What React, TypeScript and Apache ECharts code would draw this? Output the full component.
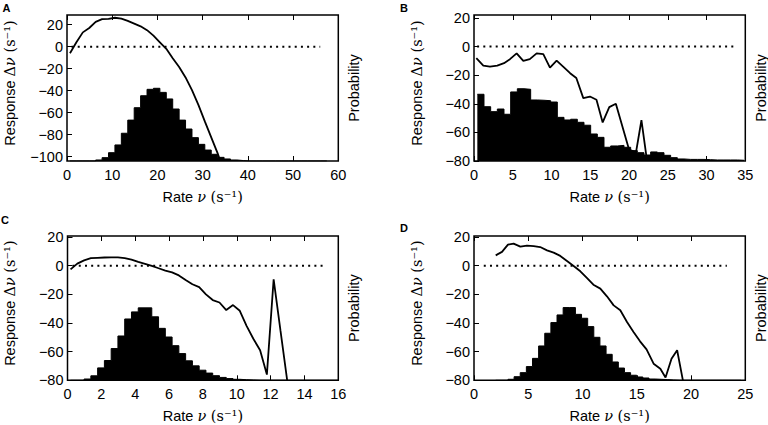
import React, { useEffect, useRef } from "react";
import * as echarts from "echarts";

// ---------- Panel A ----------
const rateA = [0.66, 2.08, 3.5, 4.92, 6.34, 7.76, 9.18, 10.6, 12.02, 13.44, 14.86, 16.28, 17.7, 19.12, 20.54, 21.96, 23.38, 24.8, 26.22, 27.64, 29.06, 30.48, 31.9, 33.32, 33.8];
const responseA = [-6, 4, 13, 17, 22.5, 25, 25.3, 26.3, 25.5, 23.5, 21, 18.5, 15, 10, 4, -2, -10.5, -18.5, -28, -39.5, -53, -68, -82.5, -97, -103];
const histStartA = 0.66;
const histWidthA = 1.42;
const histA = [0, 0, 0, 0, 0.007, 0.023, 0.057, 0.11, 0.19, 0.28, 0.365, 0.447, 0.491, 0.498, 0.47, 0.425, 0.356, 0.28, 0.219, 0.16, 0.114, 0.075, 0.046, 0.025, 0.014, 0.007, 0.003, 0, 0, 0, 0, 0, 0, 0, 0, 0, 0, 0, 0, 0];
const zeroA = [1.0, 56.0];

// ---------- Panel B ----------
const rateB = [0.3, 1.2, 2.06, 3.0, 3.87, 4.64, 5.5, 6.36, 7.2, 8.08, 8.94, 9.8, 10.66, 11.5, 12.4, 13.2, 14.1, 14.96, 15.8, 16.6, 17.45, 18.3, 20.0, 20.9, 21.6, 22.3];
const responseB = [-8.1, -13.3, -14, -13.3, -11.6, -8.8, -4.7, -10, -8.8, -4.7, -5.3, -14.7, -9.8, -14, -18.6, -22, -36, -34.9, -37.2, -53, -42.3, -40, -72, -74, -51.5, -79];
const histStartB = 0.43;
const histWidthB = 0.86;
const histB = [0.457, 0.372, 0.338, 0.356, 0.32, 0.473, 0.495, 0.491, 0.418, 0.416, 0.413, 0.404, 0.299, 0.281, 0.286, 0.265, 0.245, 0.185, 0.162, 0.094, 0.103, 0.107, 0.094, 0.071, 0.057, 0.041, 0.062, 0.057, 0.039, 0.023, 0.014, 0.011, 0.011, 0.011, 0.009, 0.007, 0.007, 0.007, 0.007, 0.005];
const zeroB = [0.4, 33.5];

// ---------- Panel C ----------
const rateC = [0.18, 0.58, 0.98, 1.38, 1.78, 2.18, 2.58, 2.98, 3.38, 3.78, 4.18, 4.58, 4.98, 5.38, 5.78, 6.18, 6.58, 6.98, 7.38, 7.78, 8.18, 8.58, 8.98, 9.38, 9.78, 10.18, 10.58, 10.98, 11.38, 11.78, 12.18, 12.58, 12.98];
const responseC = [-2.6, 1.4, 3.7, 5.2, 5.5, 5.7, 5.8, 5.8, 5.3, 4.2, 2.6, 1.3, -0.2, -1.8, -3.4, -4.7, -6.8, -10, -13, -15, -20, -24, -25.7, -31, -27.5, -31.5, -42, -51, -59, -76, -9.5, -45, -80];
const histStartC = 0.18;
const histWidthC = 0.4;
const histC = [0, 0, 0.009, 0.031, 0.086, 0.137, 0.22, 0.307, 0.425, 0.474, 0.502, 0.502, 0.44, 0.36, 0.3, 0.24, 0.185, 0.135, 0.1, 0.07, 0.05, 0.032, 0.02, 0.012, 0.007, 0.004, 0.002, 0, 0, 0, 0, 0, 0, 0, 0, 0, 0, 0, 0, 0];
const zeroC = [0.3, 15.3];

// ---------- Panel D ----------
const rateD = [2.0, 2.58, 3.13, 3.65, 4.27, 4.88, 5.5, 6.1, 6.73, 7.34, 7.95, 8.57, 9.18, 9.8, 10.4, 11.0, 11.64, 12.25, 12.87, 13.48, 14.1, 14.7, 15.3, 15.9, 16.55, 17.17, 17.65, 18.2, 18.72, 19.25];
const responseD = [7.2, 9.6, 14.7, 15.4, 13.3, 14, 13.7, 13, 10.7, 9.1, 6.8, 3.3, -0.2, -3.9, -8.6, -13.3, -16, -21.4, -27.7, -31.1, -39.3, -46.3, -52.8, -58.4, -68.4, -71.9, -78, -65, -59, -80];
const histStartD = 2.0;
const histWidthD = 0.565;
const histD = [0, 0, 0.007, 0.025, 0.053, 0.095, 0.152, 0.238, 0.326, 0.4, 0.453, 0.504, 0.504, 0.457, 0.43, 0.372, 0.298, 0.238, 0.18, 0.127, 0.085, 0.053, 0.035, 0.023, 0.016, 0.009, 0.007, 0.005, 0.002, 0, 0, 0, 0, 0, 0, 0, 0, 0, 0, 0];
const zeroD = [0.9, 23.3];

// ---------- Axes ----------
const yTicksA = [-100, -80, -60, -40, -20, 0, 20];
const yTicksBCD = [-80, -60, -40, -20, 0, 20];
const panelLetters = ["A", "B", "C", "D"];

const SANS = "Liberation Sans";
const SERIF = "DejaVu Serif";
const FS = 14.5;

const richStyles = {
  t: { fontFamily: SANS, fontSize: FS, color: "#000" },
  m: { fontFamily: SERIF, fontStyle: "italic", fontSize: 14.5, color: "#000" },
  r: { fontFamily: SERIF, fontSize: 14.5, color: "#000" },
};

const minus = (v: number) => String(v).replace("-", "\u2212");

function stepData(start: number, width: number, vals: number[]) {
  const pts: number[][] = vals.map((v, i) => [start + i * width, v]);
  pts.push([start + vals.length * width, vals[vals.length - 1]]);
  return pts;
}

export default function App() {
  const ref = useRef<HTMLDivElement>(null);
  useEffect(() => {
    if (!ref.current) return;
    const chart = echarts.init(ref.current, undefined, { renderer: "svg" });

    const panels = [
      { grid: { left: 67, top: 15, width: 271.3, height: 146 }, xMax: 60, xInt: 10, yMin: -104, yMax: 28.8, yTicks: yTicksA, rate: rateA, resp: responseA, hs: histStartA, hw: histWidthA, hist: histA, zero: zeroA },
      { grid: { left: 474, top: 15, width: 271.3, height: 146 }, xMax: 35, xInt: 5, yMin: -80, yMax: 22.1, yTicks: yTicksBCD, rate: rateB, resp: responseB, hs: histStartB, hw: histWidthB, hist: histB, zero: zeroB },
      { grid: { left: 67.5, top: 236, width: 270.8, height: 144.3 }, xMax: 16, xInt: 2, yMin: -80, yMax: 20.7, yTicks: yTicksBCD, rate: rateC, resp: responseC, hs: histStartC, hw: histWidthC, hist: histC, zero: zeroC },
      { grid: { left: 474, top: 236, width: 271.3, height: 144.3 }, xMax: 25, xInt: 5, yMin: -80, yMax: 20.7, yTicks: yTicksBCD, rate: rateD, resp: responseD, hs: histStartD, hw: histWidthD, hist: histD, zero: zeroD },
    ];

    const grids: any[] = [];
    const xAxes: any[] = [];
    const yAxes: any[] = [];
    const series: any[] = [];
    const tick = { show: true, inside: true, length: 5, lineStyle: { color: "#000", width: 1 } };

    panels.forEach((p, i) => {
      grids.push({ ...p.grid, show: true, borderColor: "#000", borderWidth: 1.5, backgroundColor: "transparent", containLabel: false, outerBoundsMode: "none" });
      xAxes.push({
        type: "value", gridIndex: i, position: "bottom", min: 0, max: p.xMax, interval: p.xInt,
        axisLine: { show: false, onZero: false }, axisTick: tick, splitLine: { show: false },
        axisLabel: { margin: 6, fontFamily: SANS, fontSize: FS, color: "#000" },
        name: "{t|Rate }{m|ν}{r| (s⁻¹)}", nameLocation: "middle", nameGap: 28,
        nameTextStyle: { rich: richStyles },
      });
      xAxes.push({
        type: "value", gridIndex: i, position: "top", min: 0, max: p.xMax, interval: p.xInt,
        axisLine: { show: false, onZero: false }, axisTick: tick, splitLine: { show: false },
        axisLabel: { show: false },
      });
      yAxes.push({
        type: "value", gridIndex: i, position: "left", min: p.yMin, max: p.yMax,
        axisLine: { show: false, onZero: false }, splitLine: { show: false },
        axisTick: { ...tick, customValues: p.yTicks },
        axisLabel: { margin: 4, fontFamily: SANS, fontSize: FS, color: "#000", customValues: p.yTicks, formatter: minus },
        name: "{t|Response }{r|Δ}{m|ν}{r| (s⁻¹)}", nameLocation: "middle", nameRotate: 90, nameGap: 50,
        nameTextStyle: { rich: richStyles, padding: [0, 0, 0, 10] },
      });
      yAxes.push({
        type: "value", gridIndex: i, position: "right", min: 0, max: 1,
        axisLine: { show: false, onZero: false }, axisTick: { show: false }, axisLabel: { show: false }, splitLine: { show: false },
        name: "Probability", nameLocation: "middle", nameRotate: 90, nameGap: 8,
        nameTextStyle: { fontFamily: SANS, fontSize: FS, color: "#000" },
      });
      series.push({
        type: "line", xAxisIndex: 2 * i, yAxisIndex: 2 * i + 1, step: "end", symbol: "none", silent: true,
        data: stepData(p.hs, p.hw, p.hist),
        lineStyle: { color: "#000", width: 1 },
        areaStyle: { color: "#000", opacity: 1, origin: "start" }, z: 1,
      });
      series.push({
        type: "line", xAxisIndex: 2 * i, yAxisIndex: 2 * i, symbol: "none", silent: true,
        data: [[p.zero[0], 0], [p.zero[1], 0]],
        lineStyle: { color: "#000", width: 2, type: [2, 4.2] }, z: 2,
      });
      series.push({
        type: "line", xAxisIndex: 2 * i, yAxisIndex: 2 * i, symbol: "none", silent: true,
        data: p.rate.map((x, k) => [x, p.resp[k]]),
        lineStyle: { color: "#000", width: 1.8 }, z: 3,
      });
    });

    const letterPos = [[2.5, 2], [400, 2], [1, 214], [400, 222]];
    const graphic = panelLetters.map((l, i) => ({
      type: "text", left: letterPos[i][0], top: letterPos[i][1],
      style: { text: l, font: `bold 11px ${SANS}`, fill: "#000" },
    }));

    chart.setOption({
      animation: false,
      backgroundColor: "#fff",
      textStyle: { fontFamily: SANS },
      grid: grids,
      xAxis: xAxes,
      yAxis: yAxes,
      series,
      graphic,
    });
    return () => chart.dispose();
  }, []);
  return <div ref={ref} style={{ position: "fixed", left: 0, top: 0, width: 768, height: 425 }} />;
}
